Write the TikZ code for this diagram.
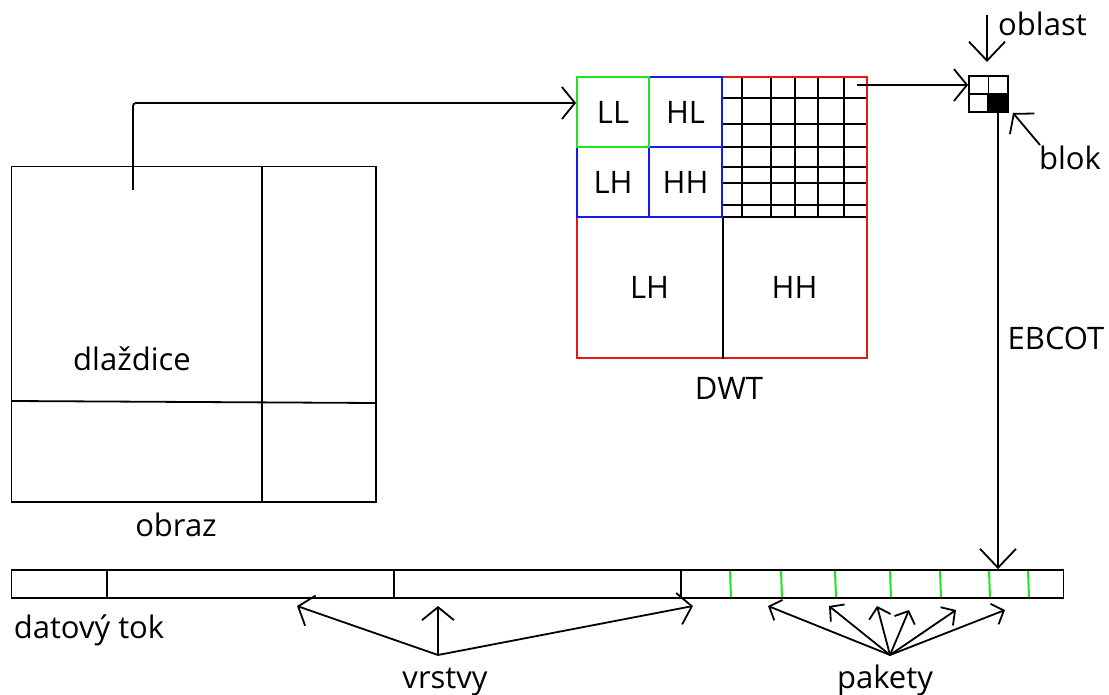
\documentclass[tikz,border=0pt]{standalone}
\usepackage{fontspec}
\setmainfont{Open Sans}
\usetikzlibrary{arrows.meta,calc}
\definecolor{cgreen}{RGB}{30,230,30}
\definecolor{cblue}{RGB}{25,25,235}
\definecolor{cred}{RGB}{230,25,25}
\tikzset{
  ln/.style={line width=1.8pt, draw=black},
  arr/.style={ln, -{Straight Barb[length=13pt,width=32pt]}},
  varr/.style={ln, -{Straight Barb[length=19pt,width=36pt]}},
  parr/.style={ln, -{Straight Barb[length=10pt,width=22pt]}},
  lbl/.style={anchor=base, inner sep=0pt, font=\fontsize{31}{37}\selectfont},
  band/.style={draw, line width=1.8pt, inner sep=0pt, font=\fontsize{31}{37}\selectfont},
  gridln/.style={line width=1.8pt, draw=black},
  pkt/.style={line width=2pt, draw=cgreen}
}
\begin{document}
\begin{tikzpicture}[x=1pt,y=-1pt]
\useasboundingbox (0,0) rectangle (1109,695);

% ---------- image (obraz) ----------
\node[ln, draw, minimum width=364.5pt, minimum height=335.5pt, inner sep=0pt] (img) at (193.75,334.25) {};
\draw[ln] (262,166.5) -- (262,502);
\draw[ln] (11.5,401) -- (376,403);
\node[lbl] (tdl) at (132,370.7) {dlaždice};
\node[lbl] (tob) at (176,536) {obraz};

% ---------- DWT ----------
\foreach \gx in {742,771,795,818,844} \draw[gridln] (\gx,77) -- (\gx,217);
\foreach \gy in {98,124,147,167,183,205,217} \draw[gridln] (722,\gy) -- (867,\gy);
\node[band, draw=cred, minimum width=290pt, minimum height=281pt] (dwt) at (722,217.5) {};
\node[band, draw=none, minimum width=145pt, minimum height=141pt] (LH2) at (649.5,287.5) {LH};
\node[band, draw=none, minimum width=145pt, minimum height=141pt] (HH2) at (794.5,287.5) {HH};
\draw[ln] (LH2.north east) -- (LH2.south east);
\node[band, draw=cblue, minimum width=73pt, minimum height=70pt] (HL) at (685.5,112) {HL};
\node[band, draw=cblue, minimum width=72pt, minimum height=70pt] (LH) at (613,182) {LH};
\node[band, draw=cblue, minimum width=73pt, minimum height=70pt] (HH) at (685.5,182) {HH};
\node[band, draw=cgreen, minimum width=72pt, minimum height=70pt] (LL) at (613,112) {LL};
\node[lbl] (tdwt) at (729,399) {DWT};

% ---------- code block ----------
\node[ln, draw, minimum width=39pt, minimum height=36pt, inner sep=0pt] (blk) at (988.5,94) {};
\node[ln, draw, fill=black, minimum width=20pt, minimum height=17pt, inner sep=0pt] (blkc) at (998,103.5) {};
\draw[ln] (blk.north) -- (blk.south);
\draw[ln] (blk.west) -- (blk.east);
\node[lbl] (tobl) at (1042.5,36) {oblast};
\node[lbl] (tblk) at (1070,170) {blok};
\node[lbl] (tebc) at (1056,349) {EBCOT};

% ---------- data stream ----------
\node[ln, draw, minimum width=1052pt, minimum height=28pt, inner sep=0pt] (stream) at (537.5,584) {};
\foreach \dx in {107,394,681} \draw[ln] (\dx,570) -- (\dx,598);
\foreach \dx in {730,781,835,890,940,989,1028} \draw[pkt] (\dx,571) -- (\dx+1,597);
\node[lbl] (tdat) at (89,638.3) {datový tok};
\node[lbl] (tvr) at (445,688) {vrstvy};
\node[lbl] (tpk) at (885,688) {pakety};

% ---------- connectors ----------
\coordinate (s1) at (133,190);
\draw[arr, rounded corners=3pt] (s1) |- ([yshift=9pt]LL.west);
\coordinate (cb) at (857,85);
\draw[arr] (cb) -- (cb -| blk.west);
\coordinate (obtail) at (987,15);
\coordinate (obtip) at (987,62);
\draw[varr] (obtail) -- (obtip);
\coordinate (bktail) at (1040,145);
\coordinate (bktip) at (1013,113);
\draw[arr] (bktail) -- (bktip);
\draw[varr] (blkc.south) -- (blkc.south |- stream.north);

% layers
\coordinate (vr) at (438,655);
\coordinate (v1) at (297,606);
\coordinate (v2) at (438,606);
\coordinate (v3) at (693,606);
\foreach \t in {v1,v2,v3} \draw[arr] (vr) -- (\t);

% packets
\coordinate (pk) at (890,655);
\coordinate (p1) at (768,606);
\coordinate (p2) at (829,606);
\coordinate (p3) at (877,606);
\coordinate (p4) at (909,610);
\coordinate (p5) at (956,610);
\coordinate (p6) at (1005,610);
\foreach \t in {p1,p2,p3,p4,p5,p6} \draw[parr] (pk) -- (\t);
\end{tikzpicture}
\end{document}
